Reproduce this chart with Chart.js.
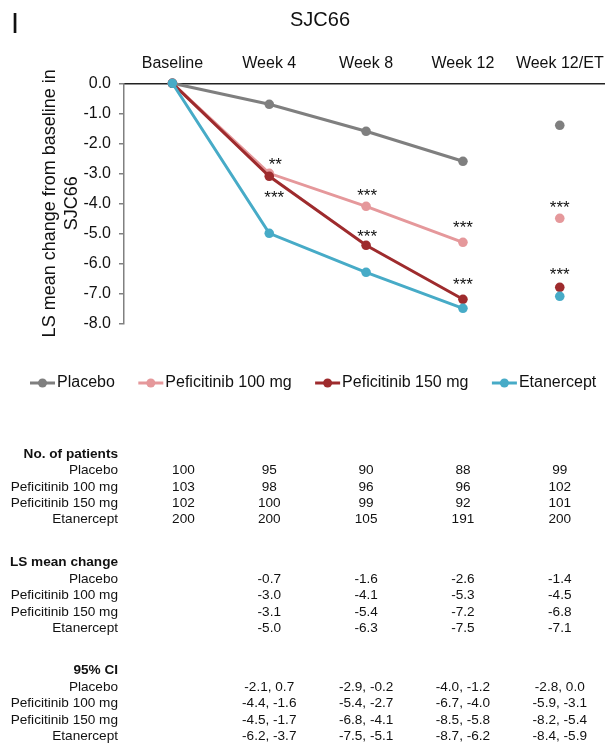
<!DOCTYPE html>
<html><head><meta charset="utf-8">
<script src="https://cdn.jsdelivr.net/npm/chart.js@4"></script>
<style>html,body{margin:0;padding:0;background:#fff;overflow:hidden}#wrap{width:700px;height:744px;position:relative}canvas{display:block}</style>
</head><body>
<div id="wrap"></div>
<script>
// ---- data ----
const categories = ['Baseline', 'Week 4', 'Week 8', 'Week 12', 'Week 12/ET'];
const seriesNames = ['Placebo', 'Peficitinib 100 mg', 'Peficitinib 150 mg', 'Etanercept'];
const placebo = [0, -0.7, -1.6, -2.6, -1.4];
const pef100 = [0, -3.0, -4.1, -5.3, -4.5];
const pef150 = [0, -3.1, -5.4, -7.2, -6.8];
const etanercept = [0, -5.0, -6.3, -7.5, -7.1];
const sigPef100 = ['', '**', '***', '***', '***'];
const sigPef150 = ['', '***', '***', '***', '***'];
const yTicks = [0, -1, -2, -3, -4, -5, -6, -7, -8];

const nPlacebo = [100, 95, 90, 88, 99];
const nPef100 = [103, 98, 96, 96, 102];
const nPef150 = [102, 100, 99, 92, 101];
const nEtanercept = [200, 200, 105, 191, 200];

const ciPlacebo = ['-2.1, 0.7', '-2.9, -0.2', '-4.0, -1.2', '-2.8, 0.0'];
const ciPef100 = ['-4.4, -1.6', '-5.4, -2.7', '-6.7, -4.0', '-5.9, -3.1'];
const ciPef150 = ['-4.5, -1.7', '-6.8, -4.1', '-8.5, -5.8', '-8.2, -5.4'];
const ciEtanercept = ['-6.2, -3.7', '-7.5, -5.1', '-8.7, -6.2', '-8.4, -5.9'];

// ---- styles ----
const FONT = '"Liberation Sans", Arial, Helvetica, sans-serif';
const TXT = '#111111';
const colors = ['#7f7f7f', '#e5989b', '#9e2b2d', '#47abc7'];
const seriesValues = [placebo, pef100, pef150, etanercept];
const nTable = [nPlacebo, nPef100, nPef150, nEtanercept];
const ciTable = [ciPlacebo, ciPef100, ciPef150, ciEtanercept];
const TARGET_RIGHT = 608;

Chart.defaults.font.family = FONT;
Chart.defaults.color = TXT;

const hideLast = ctx => ctx.p1DataIndex === 4 ? 'rgba(0,0,0,0)' : undefined;

const annotations = [
  { ds: 1, marks: sigPef100, dx: [0, 6, 1, 0, 0], dy: [0, -13, -15, -19, -15] },
  { ds: 2, marks: sigPef150, dx: [0, 5, 1, 0, 0], dy: [0, 17, -13, -19, -17] }
];

const extras = {
  id: 'extras',
  afterDraw(chart) {
    const ctx = chart.ctx;
    ctx.save();
    // panel letter
    ctx.fillStyle = TXT;
    ctx.font = '29px ' + FONT;
    ctx.textAlign = 'left';
    ctx.textBaseline = 'alphabetic';
    ctx.fillText('I', 11, 33);

    // significance marks
    ctx.font = '17px ' + FONT;
    ctx.textAlign = 'center';
    ctx.textBaseline = 'alphabetic';
    annotations.forEach(a => {
      const meta = chart.getDatasetMeta(a.ds);
      a.marks.forEach((m, j) => {
        if (!m) return;
        const p = meta.data[j];
        ctx.fillText(m, p.x + a.dx[j], p.y + a.dy[j] + 9.8);
      });
    });

    // legend
    const ly = 383;
    let lx = 30;
    ctx.font = '16px ' + FONT;
    ctx.textAlign = 'left';
    ctx.textBaseline = 'middle';
    chart.data.datasets.forEach(ds => {
      ctx.strokeStyle = ds.borderColor;
      ctx.lineWidth = 3;
      ctx.beginPath();
      ctx.moveTo(lx, ly);
      ctx.lineTo(lx + 25, ly);
      ctx.stroke();
      ctx.fillStyle = ds.borderColor;
      ctx.beginPath();
      ctx.arc(lx + 12.5, ly, 4.5, 0, Math.PI * 2);
      ctx.fill();
      ctx.fillStyle = TXT;
      const tx = lx + 27;
      ctx.fillText(ds.label, tx, ly);
      lx = tx + ctx.measureText(ds.label).width + 23.5;
    });

    // table
    const xs = chart.scales.x;
    const colX = categories.map((c, i) => xs.getPixelForValue(i));
    const baseColX = colX[0] + 11;
    const labelRight = 118;
    const step = 16.4;
    const sections = [
      { title: 'No. of patients', y: 454, cells: (r, c) => String(nTable[r][c]), from: 0 },
      { title: 'LS mean change', y: 562.7, cells: (r, c) => seriesValues[r][c].toFixed(1), from: 1 },
      { title: '95% CI', y: 670.7, cells: (r, c) => ciTable[r][c - 1], from: 1 }
    ];
    sections.forEach(sec => {
      ctx.fillStyle = TXT;
      ctx.textBaseline = 'middle';
      ctx.textAlign = 'right';
      ctx.font = 'bold 13.6px ' + FONT;
      ctx.fillText(sec.title, labelRight, sec.y);
      ctx.font = '13.6px ' + FONT;
      seriesNames.forEach((name, r) => {
        const y = sec.y + step * (r + 1);
        ctx.textAlign = 'right';
        ctx.fillText(name, labelRight, y);
        ctx.textAlign = 'center';
        for (let c = sec.from; c < categories.length; c++) {
          const x = c === 0 ? baseColX : colX[c];
          ctx.fillText(sec.cells(r, c), x, y);
        }
      });
    });
    ctx.restore();
  }
};

function build(canvasWidth) {
  const wrap = document.getElementById('wrap');
  wrap.innerHTML = '';
  const canvas = document.createElement('canvas');
  canvas.width = canvasWidth;
  canvas.height = 744;
  canvas.style.width = canvasWidth + 'px';
  canvas.style.height = '744px';
  wrap.appendChild(canvas);
  const datasets = seriesNames.map((name, i) => ({
    label: name,
    data: seriesValues[i],
    borderColor: colors[i],
    backgroundColor: colors[i],
    pointBackgroundColor: colors[i],
    pointBorderColor: colors[i],
    pointBorderWidth: 0,
    pointRadius: 4.8,
    pointHoverRadius: 4.8,
    borderWidth: 3,
    tension: 0,
    clip: false,
    order: 3 - i,
    segment: { borderColor: hideLast }
  }));
  return new Chart(canvas, {
    type: 'line',
    data: { labels: categories, datasets },
    options: {
      responsive: false,
      maintainAspectRatio: false,
      animation: false,
      devicePixelRatio: 1,
      layout: { padding: { left: 27, right: 0, top: 0, bottom: 420.7 } },
      plugins: {
        legend: { display: false },
        tooltip: { enabled: false },
        title: {
          display: true, text: 'SJC66', color: TXT,
          font: { size: 20, weight: 'normal', lineHeight: 1.2 },
          padding: { top: 8.7, bottom: 0 }
        }
      },
      scales: {
        x: {
          position: 'top',
          offset: true,
          ticks: { padding: 0, color: TXT, font: { size: 16 }, maxRotation: 0, autoSkip: false },
          grid: { display: false, drawTicks: true, tickLength: 10 },
          border: { display: true, color: '#222222', width: 1.5 },
          afterFit: s => { s.height = 50.6; s.paddingLeft = 0; s.paddingRight = 0; }
        },
        y: {
          min: -8, max: 0,
          afterBuildTicks: s => { s.ticks = yTicks.map(v => ({ value: v })); },
          ticks: { padding: 8, color: TXT, font: { size: 16 }, callback: v => Number(v).toFixed(1) },
          grid: { drawOnChartArea: false, drawTicks: true, tickLength: 5, color: '#808080', lineWidth: 1.5 },
          border: { color: '#808080', width: 1.5 },
          title: {
            display: true,
            text: ['LS mean change from baseline in', 'SJC66'],
            color: TXT,
            font: { size: 18, lineHeight: 1.25 },
            padding: { top: 11.75, bottom: 0 }
          },
          afterFit: s => { s.width = 97; s.paddingTop = 0; s.paddingBottom = 0; }
        }
      }
    },
    plugins: [extras]
  });
}

// the plot area runs to the right edge of the window in the reference: widen the canvas past the window until it does
let w = 605;
let chart = build(w);
for (let k = 0; k < 4; k++) {
  const d = TARGET_RIGHT - chart.chartArea.right;
  if (Math.abs(d) < 0.5) break;
  w = Math.round(w + d);
  chart.destroy();
  chart = build(w);
}
</script>
</body></html>
